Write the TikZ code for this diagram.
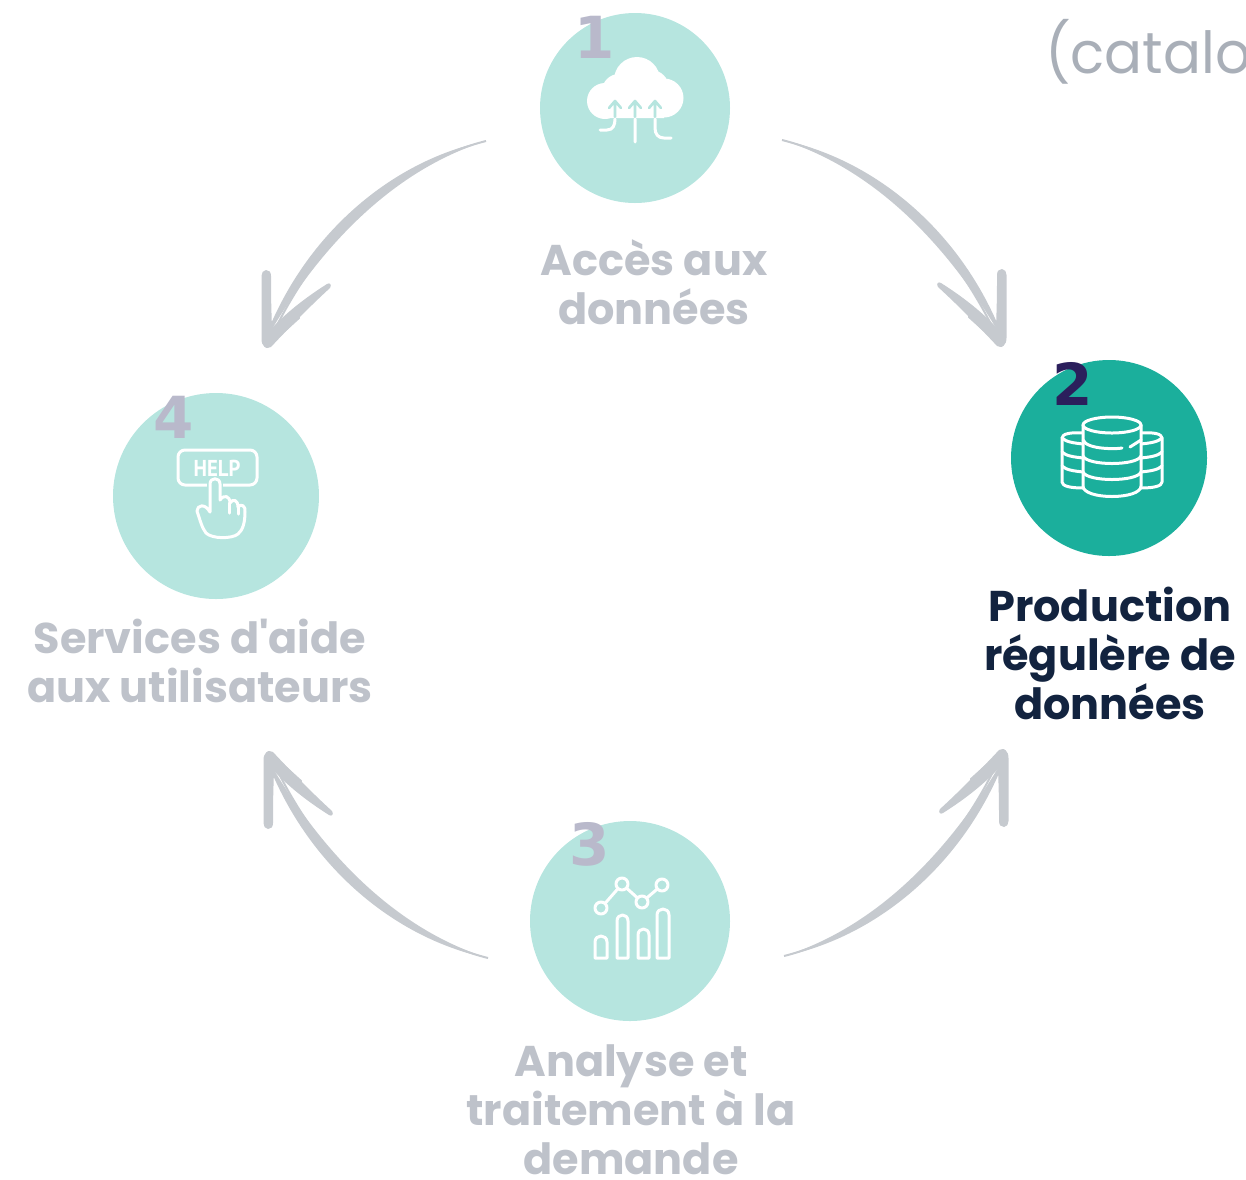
\documentclass[tikz,border=0pt]{standalone}
\usepackage{fontspec}
\setmainfont{Poppins}[Ligatures=TeXOff]
\newfontfamily\numfont{DejaVu Sans}
\newfontfamily\helpfont{PT Sans}
\usetikzlibrary{arrows.meta}
\definecolor{pale}{HTML}{B6E5DF}
\definecolor{strong}{HTML}{1BAF9C}
\definecolor{arrowgrey}{HTML}{C6CACF}
\definecolor{labelgrey}{HTML}{BEC2CA}
\definecolor{navy}{HTML}{12233F}
\definecolor{numgrey}{HTML}{B9B9CB}
\definecolor{numdark}{HTML}{2B1F5C}
\definecolor{topgrey}{HTML}{A9AFB8}
\tikzset{
  disc/.style={circle,inner sep=0pt,draw=none},
  lab/.style={align=center,inner sep=0pt,font=\fontsize{43}{49}\selectfont\bfseries,text=labelgrey},
  numlab/.style={inner sep=0pt,font=\fontsize{58}{58}\selectfont\numfont\bfseries,text=numgrey},
  conn/.style={draw=arrowgrey,line width=2pt,-{Straight Barb[length=40pt,width=34pt,line width=3pt,round]}},
  taper/.style={fill=arrowgrey,draw=none},
  icon/.style={draw=white,line width=3pt,line cap=round,line join=round},
}
% one connector of the cycle, in the coordinates of the upper right one
\newcommand{\cyclearrow}[1]{%
  \coordinate (a#1) at (782,140);
  \coordinate (b#1) at (1002,347);
  \draw[conn] (a#1) .. controls (869,162) and (948,230) .. (b#1);
  \fill[taper] (a#1) .. controls (870,158) and (955,225) .. (998,325)
     -- (996,328) .. controls (940,235) and (868,167) .. (a#1);
  \fill[taper] (1002,269) .. controls (1005,269) and (1006.5,272) .. (1006.5,275)
     -- (1006.5,338) .. controls (1006.5,345) and (1002,349) .. (997,346)
     .. controls (985,333) and (960,307) .. (938,287)
     .. controls (936,284) and (938,281) .. (941,283)
     .. controls (960,295) and (980,310) .. (996,327)
     .. controls (997,300) and (997,290) .. (997,275)
     .. controls (997,271) and (999,269) .. (1002,269);
}
\begin{document}
\begin{tikzpicture}[x=1pt,y=-1pt]
\useasboundingbox (0,0) rectangle (1246,1179);
\begin{scope}
\clip (0,0) rectangle (1246,1179);
\node[anchor=base west,inner sep=0pt,font=\fontsize{58}{58}\selectfont,text=topgrey,xscale=0.97] (cat) at (1045,73) {(catalog};
\end{scope}

% discs
\node[disc,fill=pale,minimum size=190pt] (d1) at (635,108) {};
\node[disc,fill=strong,minimum size=196pt] (d2) at (1109,458) {};
\node[disc,fill=pale,minimum size=200pt] (d3) at (630,921) {};
\node[disc,fill=pale,minimum size=206pt] (d4) at (216,496) {};

% numbers
\node[numlab] (n1) at (595,37) {1};
\node[numlab,text=numdark] (n2) at (1073,384) {2};
\node[numlab] (n3) at (590,844) {3};
\node[numlab] (n4) at (174,417) {4};

% labels
\node[lab] (l1) at (654,282) {Accès aux\\données};
\node[lab,text=navy] (l2) at (1110,653) {Production\\régulère de\\données};
\node[lab] (l3) at (631,1110) {Analyse et\\traitement à la\\demande};
\node[lab] (l4) at (200,661) {Services d'aide\\aux utilisateurs};

% connectors
\begin{scope}\cyclearrow{1}\end{scope}
\begin{scope}[shift={(2,1096)},yscale=-1]\cyclearrow{2}\end{scope}
\begin{scope}[shift={(1270,1098)},xscale=-1,yscale=-1]\cyclearrow{3}\end{scope}
\begin{scope}[shift={(1268,1)},xscale=-1]\cyclearrow{4}\end{scope}

% cloud icon
\fill[white] (637,80) circle (23pt) (605,101) circle (18pt) (619,91) circle (17pt)
  (664,98) circle (19.5pt) (651,88) circle (18pt)
  (605,90) rectangle (664,118);
\draw[draw=pale,line width=2.6pt,line cap=round,line join=round]
  (615,117) -- (615,102) (609,108) -- (615,101) -- (621,108)
  (635,117) -- (635,102) (629,108) -- (635,101) -- (641,108)
  (655,117) -- (655,102) (649,108) -- (655,101) -- (661,108);
\draw[icon] (600,130) -- (607,130) .. controls (613,130) and (615,125) .. (615,119)
  (635,119) -- (635,142)
  (655,119) -- (655,128) .. controls (655,134) and (658,138) .. (664,138) -- (671,138);

% database icon
\foreach \sgn/\sh in {1/0,-1/2224}{
  \begin{scope}[shift={(\sh,0)},xscale=\sgn]
  \draw[icon,fill=strong] (1083,433) .. controls (1070,432) and (1062,434) .. (1062,438)
     -- (1062,482) .. controls (1062,486) and (1070,488) .. (1083,488);
  \draw[icon] (1062,438) .. controls (1066,442) and (1074,443) .. (1083,444)
     (1062,452) .. controls (1066,456) and (1074,457) .. (1083,458)
     (1062,466) .. controls (1066,470) and (1074,471) .. (1083,472);
  \end{scope}
}
\fill[strong] (1083,425) rectangle (1141,488);
\draw[icon,fill=strong] (1083,425) -- (1083,486) .. controls (1083,500) and (1141,500) .. (1141,486) -- (1141,425);
\draw[icon,fill=strong] (1112,425) circle[x radius=29pt,y radius=8pt];
\draw[icon] (1083,440) .. controls (1087,450) and (1118,449) .. (1122,448)
  (1130,447) -- (1141,440)
  (1083,456) .. controls (1087,466) and (1137,466) .. (1141,456)
  (1083,472) .. controls (1087,482) and (1137,482) .. (1141,472);

% help icon
\draw[icon,rounded corners=7pt] (178,450) rectangle (257,485);
\node[inner sep=0pt,text=white,font=\fontsize{23}{23}\selectfont\helpfont\bfseries,xscale=0.9] (help) at (217,468) {HELP};
\fill[pale] (207,478) rectangle (223,490);
\draw[icon] (210,512) -- (210,484) .. controls (210,477) and (220,477) .. (220,484) -- (220,500)
  .. controls (224,494) and (230,496) .. (230,503)
  .. controls (233,498) and (238,500) .. (238,507)
  .. controls (241,503) and (246,506) .. (245,512)
  .. controls (245,522) and (243,530) .. (238,534)
  .. controls (232,539) and (212,539) .. (206,533)
  .. controls (202,528) and (200,520) .. (197,511)
  .. controls (197,505) and (205,503) .. (210,512);
\draw[icon] (229,503) -- (229,513) (238,507) -- (238,514);

% chart icon
\draw[icon] (601,908) -- (622,884) -- (642,902) -- (662,885);
\draw[icon,fill=pale] (601,908) circle (6pt) (622,884) circle (6pt) (642,902) circle (6pt) (662,885) circle (6pt);
\draw[icon] (595,958) -- (595,942) .. controls (595,934) and (607,934) .. (607,942) -- (607,958) -- cycle;
\draw[icon] (617,958) -- (617,921) .. controls (617,913) and (628,913) .. (628,921) -- (628,958) -- cycle;
\draw[icon] (638,958) -- (638,935) .. controls (638,927) and (649,927) .. (649,935) -- (649,958) -- cycle;
\draw[icon] (657,958) -- (657,915) .. controls (657,907) and (669,907) .. (669,915) -- (669,958) -- cycle;
\end{tikzpicture}
\end{document}
